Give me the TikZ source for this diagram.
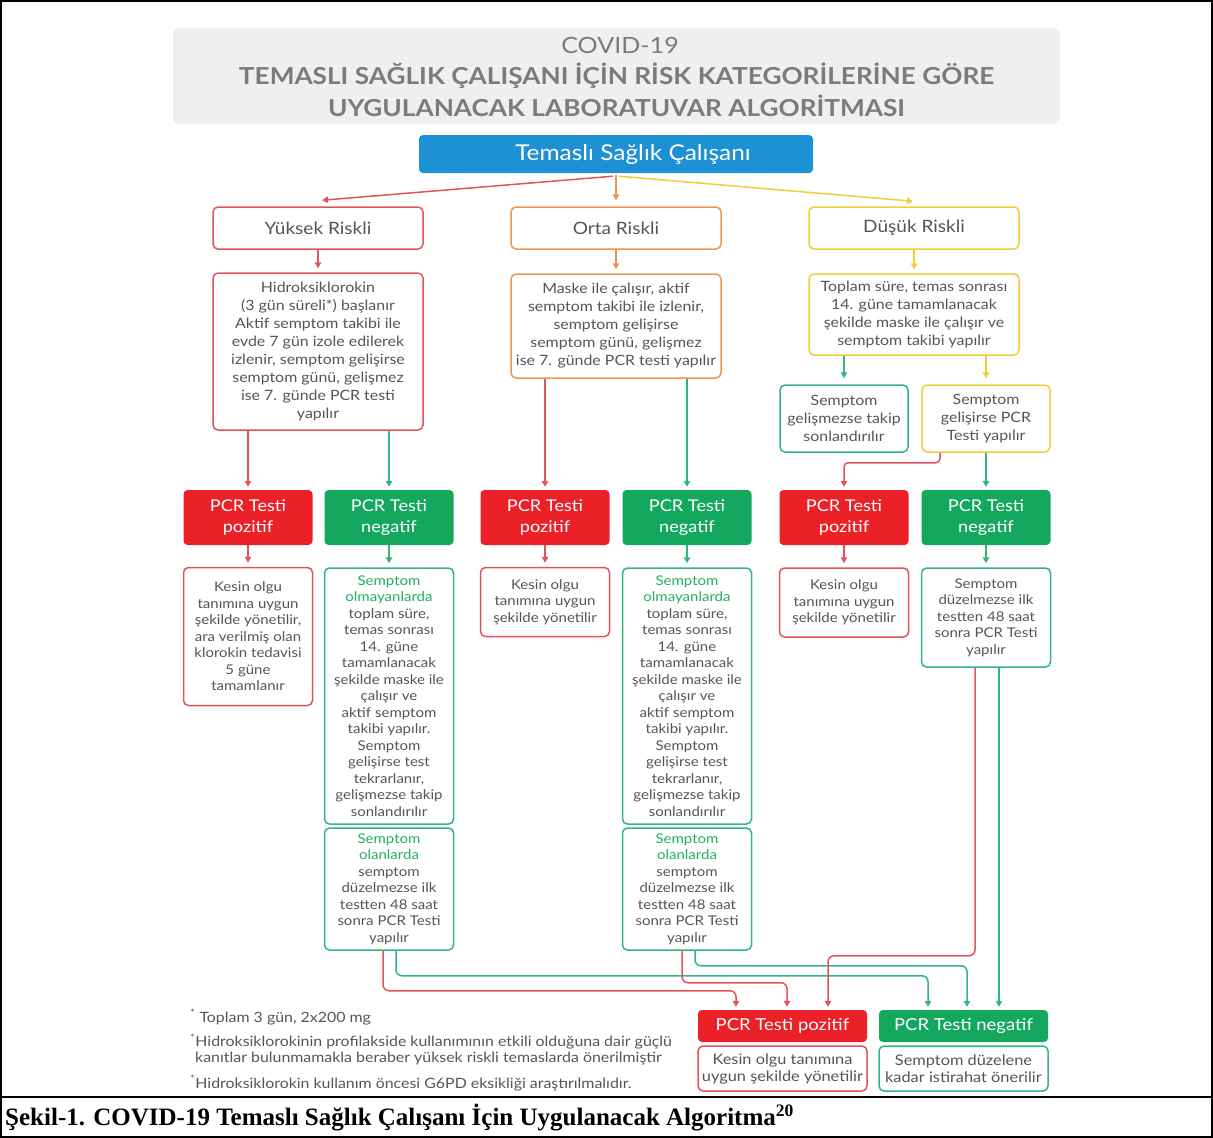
\documentclass[tikz,border=0pt]{standalone}
\usepackage{fontspec}
\setmainfont{Lato}[FakeStretch=1.12]
\newfontfamily\capfont{Liberation Serif}
\usetikzlibrary{arrows.meta}
\definecolor{cred}{HTML}{EC2027}
\definecolor{lred}{HTML}{E2545A}
\definecolor{cgreen}{HTML}{14A85F}
\definecolor{lgreen}{HTML}{33B581}
\definecolor{lorange}{HTML}{EF9450}
\definecolor{lyellow}{HTML}{EFCE3A}
\definecolor{cblue}{HTML}{1E90D4}
\definecolor{ctitlebg}{HTML}{EDF0EF}
\definecolor{ctext}{HTML}{555555}
\definecolor{ctitle}{HTML}{7A7C7C}
\definecolor{cgtext}{HTML}{22B062}
\begin{document}
\begin{tikzpicture}[x=1pt,y=-1pt,
  box/.style={draw, line width=1.5pt, rounded corners=5pt, fill=white, align=center, text=ctext, inner sep=1pt},
  txs/.style={font=\fontsize{13.4}{16.5}\selectfont},
  txm/.style={font=\fontsize{14.2}{18}\selectfont},
  pcr/.style={rounded corners=4pt, align=center, text=white, inner sep=1pt, font=\fontsize{16.2}{21}\selectfont},
  arr/.style={-{Triangle[length=6pt,width=6.5pt]}, line width=1.5pt},
  foot/.style={anchor=west, align=left, text=ctext, inner sep=0pt, font=\fontsize{14.2}{16.5}\selectfont}]
\useasboundingbox (0,0) rectangle (1213,1138);
% outer frame
\draw[line width=2pt] (1,1) rectangle (1212,1137);
\draw[line width=2pt] (1,1097) -- (1212,1097);
\node[anchor=west, inner sep=0pt, font=\capfont\bfseries\fontsize{25}{28}\selectfont] (cap) at (5,1118) {Şekil-1. COVID-19 Temaslı Sağlık Çalışanı İçin Uygulanacak Algoritma\textsuperscript{20}};
% title
\node[fill=ctitlebg, rounded corners=6pt, minimum width=887pt, minimum height=96pt] (title) at (616.5,76) {};
\node[text=ctitle, inner sep=0pt, font=\fontsize{22.4}{26}\selectfont] (t1) at (620,45) {COVID-19};
\node[text=ctitle, inner sep=0pt, font=\bfseries\fontsize{23.4}{28}\selectfont] (t2) at (616.5,76) {TEMASLI SAĞLIK ÇALIŞANI İÇİN RİSK KATEGORİLERİNE GÖRE};
\node[text=ctitle, inner sep=0pt, font=\bfseries\fontsize{23.4}{28}\selectfont] (t3) at (616.5,106) {UYGULANACAK LABORATUVAR ALGORİTMASI};
\node[fill=cblue, rounded corners=4pt, text=white, minimum width=394pt, minimum height=38pt, font=\fontsize{21.8}{24}\selectfont] (start) at (616,154) {\hspace*{34pt}Temaslı Sağlık Çalışanı};
% risk level boxes
\node[box, draw=lred, minimum width=210pt, minimum height=42pt, font=\fontsize{17}{20}\selectfont] (hi) at (318,228) {Yüksek Riskli};
\node[box, draw=lorange, minimum width=210pt, minimum height=42pt, font=\fontsize{17}{20}\selectfont] (mid) at (616,228) {Orta Riskli};
\node[box, draw=lyellow, minimum width=210pt, minimum height=42pt, font=\fontsize{17}{20}\selectfont] (lo) at (914,228) {Düşük Riskli};
\node[box, txm, draw=lred, minimum width=210pt, minimum height=157pt] (hi2) at (318,351.5) {Hidroksiklorokin\\(3 gün süreli*) başlanır\\Aktif semptom takibi ile\\evde 7 gün izole edilerek\\izlenir, semptom gelişirse\\semptom günü, gelişmez\\ise 7. günde PCR testi\\yapılır};
\node[box, txm, draw=lorange, minimum width=210pt, minimum height=104pt] (mid2) at (616,326) {Maske ile çalışır, aktif\\semptom takibi ile izlenir,\\semptom gelişirse\\semptom günü, gelişmez\\ise 7. günde PCR testi yapılır};
\node[box, txm, draw=lyellow, minimum width=210pt, minimum height=81pt] (lo2) at (914,314.5) {Toplam süre, temas sonrası\\14. güne tamamlanacak\\şekilde maske ile çalışır ve\\semptom takibi yapılır};
\node[box, txm, draw=lgreen, minimum width=128pt, minimum height=67pt] (lostop) at (844,418.5) {Semptom\\gelişmezse takip\\sonlandırılır};
\node[box, txm, draw=lyellow, minimum width=128pt, minimum height=67pt] (lotest) at (986,418.5) {Semptom\\gelişirse PCR\\Testi yapılır};
% PCR row
\node[pcr, fill=cred, minimum width=129pt, minimum height=55pt] (p1) at (248,517.5) {PCR Testi\\pozitif};
\node[pcr, fill=cgreen, minimum width=129pt, minimum height=55pt] (n1) at (389,517.5) {PCR Testi\\negatif};
\node[pcr, fill=cred, minimum width=129pt, minimum height=55pt] (p2) at (545,517.5) {PCR Testi\\pozitif};
\node[pcr, fill=cgreen, minimum width=129pt, minimum height=55pt] (n2) at (687,517.5) {PCR Testi\\negatif};
\node[pcr, fill=cred, minimum width=129pt, minimum height=55pt] (p3) at (844,517.5) {PCR Testi\\pozitif};
\node[pcr, fill=cgreen, minimum width=129pt, minimum height=55pt] (n3) at (986,517.5) {PCR Testi\\negatif};
% lower boxes
\node[box, txs, draw=lred, minimum width=129pt, minimum height=138pt] (k1) at (248,636.5) {Kesin olgu\\tanımına uygun\\şekilde yönetilir,\\ara verilmiş olan\\klorokin tedavisi\\5 güne\\tamamlanır};
\node[box, txs, draw=lgreen, minimum width=129pt, minimum height=256pt] (g1a) at (389,696) {\textcolor{cgtext}{Semptom}\\\textcolor{cgtext}{olmayanlarda}\\toplam süre,\\temas sonrası\\14. güne\\tamamlanacak\\şekilde maske ile\\çalışır ve\\aktif semptom\\takibi yapılır.\\Semptom\\gelişirse test\\tekrarlanır,\\gelişmezse takip\\sonlandırılır};
\node[box, txs, draw=lgreen, minimum width=129pt, minimum height=122pt] (g1b) at (389,889) {\textcolor{cgtext}{Semptom}\\\textcolor{cgtext}{olanlarda}\\semptom\\düzelmezse ilk\\testten 48 saat\\sonra PCR Testi\\yapılır};
\node[box, txs, draw=lred, minimum width=129pt, minimum height=69pt] (k2) at (545,602) {Kesin olgu\\tanımına uygun\\şekilde yönetilir};
\node[box, txs, draw=lgreen, minimum width=129pt, minimum height=256pt] (g2a) at (687,696) {\textcolor{cgtext}{Semptom}\\\textcolor{cgtext}{olmayanlarda}\\toplam süre,\\temas sonrası\\14. güne\\tamamlanacak\\şekilde maske ile\\çalışır ve\\aktif semptom\\takibi yapılır.\\Semptom\\gelişirse test\\tekrarlanır,\\gelişmezse takip\\sonlandırılır};
\node[box, txs, draw=lgreen, minimum width=129pt, minimum height=122pt] (g2b) at (687,889) {\textcolor{cgtext}{Semptom}\\\textcolor{cgtext}{olanlarda}\\semptom\\düzelmezse ilk\\testten 48 saat\\sonra PCR Testi\\yapılır};
\node[box, txs, draw=lred, minimum width=129pt, minimum height=69pt] (k3) at (844,602.5) {Kesin olgu\\tanımına uygun\\şekilde yönetilir};
\node[box, txs, draw=lgreen, minimum width=129pt, minimum height=99pt] (g3) at (986,617.5) {Semptom\\düzelmezse ilk\\testten 48 saat\\sonra PCR Testi\\yapılır};
% bottom results
\node[pcr, fill=cred, minimum width=169pt, minimum height=32pt, font=\fontsize{16.5}{20}\selectfont] (P) at (782.5,1026) {PCR Testi pozitif};
\node[pcr, fill=cgreen, minimum width=169pt, minimum height=32pt, font=\fontsize{16.5}{20}\selectfont] (N) at (963.5,1026) {PCR Testi negatif};
\node[box, draw=lred, minimum width=169pt, minimum height=45pt, font=\fontsize{14.6}{17}\selectfont] (PK) at (782.5,1068.5) {Kesin olgu tanımına\\uygun şekilde yönetilir};
\node[box, draw=lgreen, minimum width=169pt, minimum height=45pt, font=\fontsize{14.6}{17}\selectfont] (NK) at (963.5,1068.5) {Semptom düzelene\\kadar istirahat önerilir};
% footnotes
\node[foot] (f1) at (190,1017) {\textsuperscript{*} Toplam 3 gün, 2x200 mg};
\node[foot] (f2) at (190,1049.5) {\textsuperscript{*}Hidroksiklorokinin profilakside kullanımının etkili olduğuna dair güçlü\\\hspace*{5pt}kanıtlar bulunmamakla beraber yüksek riskli temaslarda önerilmiştir};
\node[foot] (f3) at (190,1083) {\textsuperscript{*}Hidroksiklorokin kullanım öncesi G6PD eksikliği araştırılmalıdır.};
% connectors from start
\draw[arr, lred] ([xshift=-3pt,yshift=-3pt]start.south) -- ([xshift=4pt,yshift=6pt]hi.north);
\draw[arr, lorange] ([yshift=-2pt]start.south) -- ([yshift=6pt]mid.north);
\draw[arr, lyellow] ([xshift=3pt,yshift=-3pt]start.south) -- ([xshift=-1pt,yshift=5pt]lo.north);
\draw[arr, lred] (hi.south) -- ([yshift=4pt]hi2.north);
\draw[arr, lorange] (mid.south) -- ([yshift=4pt]mid2.north);
\draw[arr, lyellow] (lo.south) -- ([yshift=4pt]lo2.north);
\draw[arr, lgreen] (lo2.south -| lostop.north) -- ([yshift=6pt]lostop.north);
\draw[arr, lyellow] (lo2.south -| lotest.north) -- ([yshift=6pt]lotest.north);
% to PCR row
\draw[arr, lred] (hi2.south -| p1.north) -- ([yshift=3pt]p1.north);
\draw[arr, lgreen] (hi2.south -| n1.north) -- ([yshift=3pt]n1.north);
\draw[arr, lred] (mid2.south -| p2.north) -- ([yshift=3pt]p2.north);
\draw[arr, lgreen] (mid2.south -| n2.north) -- ([yshift=3pt]n2.north);
\draw[arr, lred, rounded corners=4pt] ([xshift=-46pt]lotest.south) -- ++(0,10) -| ([yshift=3pt]p3.north);
\draw[arr, lgreen] (lotest.south) -- ([yshift=3pt]n3.north);
% PCR to lower boxes
\draw[arr, lred] (p1.south) -- ([yshift=4pt]k1.north);
\draw[arr, lgreen] (n1.south) -- ([yshift=4pt]g1a.north);
\draw[arr, lred] (p2.south) -- ([yshift=4pt]k2.north);
\draw[arr, lgreen] (n2.south) -- ([yshift=4pt]g2a.north);
\draw[arr, lred] (p3.south) -- ([yshift=4pt]k3.north);
\draw[arr, lgreen] (n3.south) -- ([yshift=4pt]g3.north);
% to final results
\draw[arr, lred, rounded corners=6pt] ([xshift=-6pt]g1b.south) -- ++(0,40) -| ([xshift=-46.5pt,yshift=3pt]P.north);
\draw[arr, lgreen, rounded corners=6pt] ([xshift=7pt]g1b.south) -- ++(0,25) -| ([xshift=-35.5pt,yshift=3pt]N.north);
\draw[arr, lred, rounded corners=6pt] ([xshift=-5pt]g2b.south) -- ++(0,32) -| ([xshift=4.5pt,yshift=3pt]P.north);
\draw[arr, lgreen, rounded corners=6pt] ([xshift=8pt]g2b.south) -- ++(0,15) -| ([xshift=3.5pt,yshift=3pt]N.north);
\draw[arr, lred, rounded corners=6pt] ([xshift=-11pt]g3.south) -- ++(0,288) -| ([xshift=45.5pt,yshift=3pt]P.north);
\draw[arr, lgreen] ([xshift=13pt]g3.south) -- ([xshift=35.5pt,yshift=3pt]N.north);
\end{tikzpicture}
\end{document}
